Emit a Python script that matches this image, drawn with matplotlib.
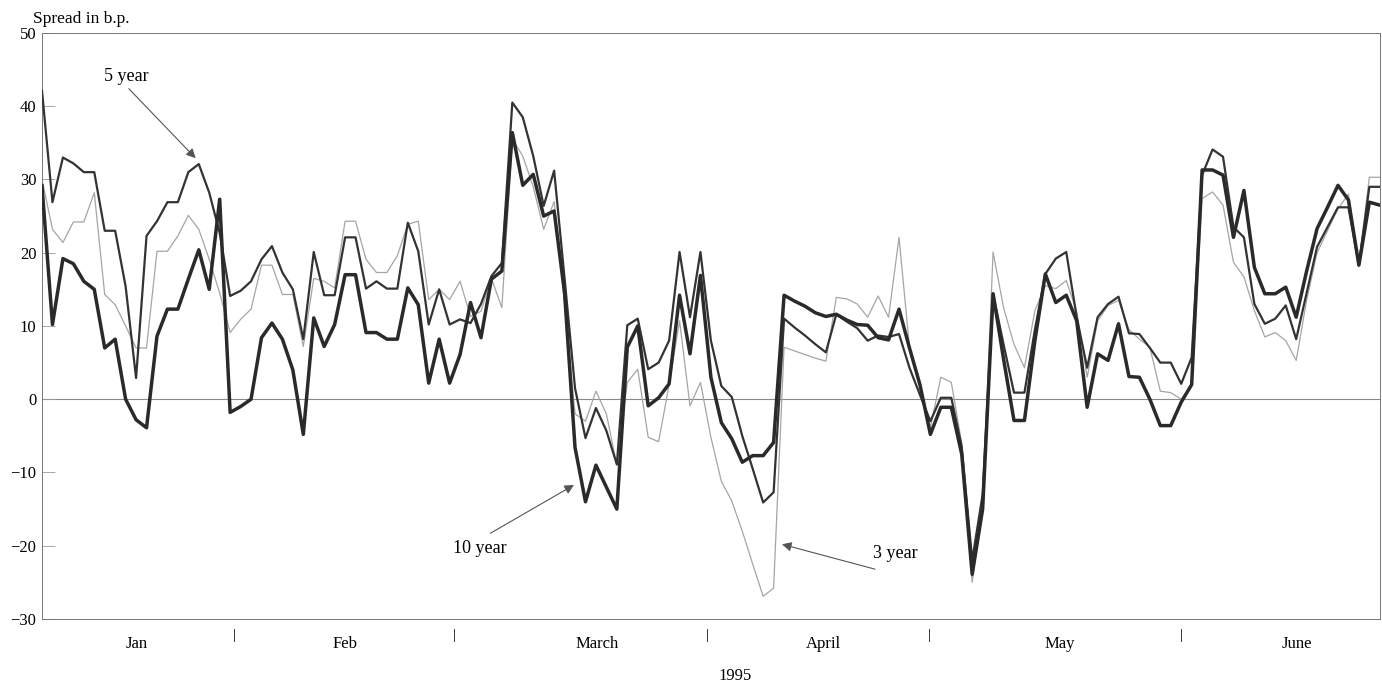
import numpy as np
import matplotlib.pyplot as plt
from matplotlib.transforms import blended_transform_factory

plt.rcParams['font.family'] = ['Liberation Serif', 'DejaVu Serif']

# spreads in basis points, one value per trading day, Jan-June 1995
ten_year = [29.1, 10.2, 19.2, 18.5, 16.1, 15.0, 7.0, 8.2, 0.0, -2.8,
            -3.9, 8.6, 12.3, 12.3, 16.4, 20.4, 15.0, 27.3, -1.8, -1.0,
            0.0, 8.4, 10.4, 8.2, 4.0, -4.8, 11.1, 7.2, 10.2, 17.0,
            17.0, 9.1, 9.1, 8.2, 8.2, 15.2, 12.9, 2.2, 8.2, 2.2,
            6.1, 13.2, 8.4, 16.4, 17.5, 36.4, 29.2, 30.7, 25.0, 25.7,
            14.5, -6.6, -14.0, -9.0, -12.0, -15.0, 7.1, 10.0, -0.9, 0.2,
            2.1, 14.2, 6.2, 16.9, 3.0, -3.2, -5.4, -8.6, -7.7, -7.7,
            -5.9, 14.2, 13.4, 12.7, 11.8, 11.3, 11.6, 10.8, 10.2, 10.1,
            8.4, 8.1, 12.3, 7.0, 2.0, -4.8, -1.1, -1.1, -7.5, -23.9,
            -15.0, 14.4, 5.5, -2.9, -2.9, 8.0, 17.1, 13.2, 14.2, 10.7,
            -1.1, 6.2, 5.3, 10.3, 3.1, 3.0, 0.0, -3.6, -3.6, -0.4,
            2.0, 31.3, 31.3, 30.6, 22.1, 28.5, 18.0, 14.4, 14.4, 15.3,
            11.2, 17.5, 23.3, 26.2, 29.2, 27.2, 18.3, 26.9, 26.5]

five_year = [42.1, 26.9, 33.0, 32.2, 31.0, 31.0, 23.0, 23.0, 15.4, 2.9,
             22.3, 24.3, 26.9, 26.9, 31.0, 32.1, 28.2, 22.7, 14.1, 14.8,
             16.1, 19.1, 20.9, 17.3, 15.0, 8.2, 20.1, 14.2, 14.2, 22.1,
             22.1, 15.1, 16.1, 15.1, 15.1, 24.1, 20.2, 10.2, 15.0, 10.2,
             10.9, 10.4, 13.0, 16.8, 18.6, 40.5, 38.5, 33.2, 26.4, 31.2,
             16.5, 1.5, -5.3, -1.2, -4.3, -8.9, 10.1, 11.0, 4.1, 5.0,
             8.0, 20.1, 11.2, 20.1, 8.0, 1.8, 0.3, -5.0, -9.5, -14.1,
             -12.7, 11.0, 9.8, 8.7, 7.5, 6.4, 11.6, 10.6, 9.7, 8.0,
             8.7, 8.5, 8.9, 4.3, 0.6, -3.0, 0.2, 0.2, -6.5, -22.0,
             -13.0, 14.4, 7.5, 0.9, 0.9, 9.5, 17.1, 19.2, 20.1, 11.2,
             4.3, 11.2, 13.0, 14.0, 9.0, 8.9, 7.0, 5.0, 5.0, 2.1,
             5.7, 30.6, 34.1, 33.1, 23.5, 22.1, 13.0, 10.3, 11.0, 12.8,
             8.2, 14.5, 20.8, 23.5, 26.2, 26.2, 18.3, 29.0, 29.0]

three_year = [30.0, 23.2, 21.4, 24.2, 24.2, 28.2, 14.3, 12.9, 10.0, 7.0,
              7.0, 20.2, 20.2, 22.3, 25.1, 23.2, 19.1, 14.5, 9.1, 10.9,
              12.3, 18.3, 18.3, 14.3, 14.3, 7.2, 16.5, 16.1, 15.2, 24.3,
              24.3, 19.1, 17.3, 17.3, 19.6, 23.9, 24.3, 13.6, 15.0, 13.6,
              16.1, 11.3, 12.0, 16.5, 12.5, 35.5, 33.2, 29.0, 23.2, 27.0,
              13.0, -2.0, -3.0, 1.1, -2.0, -9.0, 2.3, 4.1, -5.2, -5.8,
              2.0, 10.7, -0.9, 2.3, -5.2, -11.2, -13.9, -18.0, -22.5, -26.9,
              -25.8, 7.1, 6.6, 6.1, 5.6, 5.2, 13.9, 13.7, 13.0, 11.2,
              14.1, 11.2, 22.1, 7.1, 2.0, -3.9, 3.0, 2.3, -6.0, -25.0,
              -14.0, 20.1, 12.5, 7.5, 4.3, 12.1, 15.5, 15.1, 16.2, 12.0,
              3.0, 10.7, 12.8, 13.5, 9.5, 8.2, 7.1, 1.1, 0.9, 0.0,
              2.0, 27.4, 28.3, 26.5, 18.7, 16.7, 12.1, 8.5, 9.1, 8.0,
              5.3, 13.5, 20.0, 23.0, 26.0, 28.0, 18.5, 30.3, 30.3]

months = ['Jan', 'Feb', 'March', 'April', 'May', 'June']
month_mid = [9.1, 29.0, 53.1, 74.8, 97.4, 120.1]      # trading-day index of label
month_break = [18.45, 39.5, 63.7, 84.9, 109.0]

days = np.arange(len(ten_year))

fig = plt.figure(figsize=(13.82, 6.87), dpi=100)
ax = fig.add_axes([0.0304, 0.099, 0.968, 0.853])

ax.axhline(0, color='#888888', lw=0.8, zorder=1)
ax.plot(days, three_year, color='#a5a5a5', lw=0.9, zorder=2)
ax.plot(days, five_year, color='#333333', lw=1.6, zorder=3)
ax.plot(days, ten_year, color='#2a2a2a', lw=2.5, zorder=4)

ax.set_xlim(0, 128)
ax.set_ylim(-30, 50)
ax.set_yticks(np.arange(-30, 51, 10))
ax.tick_params(axis='y', direction='in', length=9, width=0.6, color='#999999',
               labelsize=12, pad=4)
ax.set_xticks(month_mid)
ax.set_xticklabels(months)
ax.tick_params(axis='x', length=0, labelsize=12, pad=12)
for s in ax.spines.values():
    s.set_linewidth(0.7)
    s.set_color('#777777')

tr = blended_transform_factory(ax.transData, ax.transAxes)
for b in month_break:
    ax.text(b, -0.028, '|', transform=tr, ha='center', va='center', fontsize=11)

fig.text(0.0239, 0.972, 'Spread in b.p.', fontsize=12.5, ha='left', va='center')
fig.text(0.532, 0.016, '1995', fontsize=12, ha='center', va='center')

# series labels with pointer arrows
arrow = dict(arrowstyle='-|>', color='#555555', lw=0.8, mutation_scale=14,
             shrinkA=0, shrinkB=0)
ax.text(8.1, 44.1, '5 year', fontsize=13, ha='center', va='center')
ax.annotate('', xy=(14.7, 32.9), xytext=(8.3, 42.4), arrowprops=arrow)
ax.text(41.9, -20.4, '10 year', fontsize=13, ha='center', va='center')
ax.annotate('', xy=(50.9, -11.7), xytext=(42.9, -18.3), arrowprops=arrow)
ax.text(81.6, -21.1, '3 year', fontsize=13, ha='center', va='center')
ax.annotate('', xy=(70.8, -19.8), xytext=(79.7, -23.2), arrowprops=arrow)

fig.savefig('out.png', dpi=100)
